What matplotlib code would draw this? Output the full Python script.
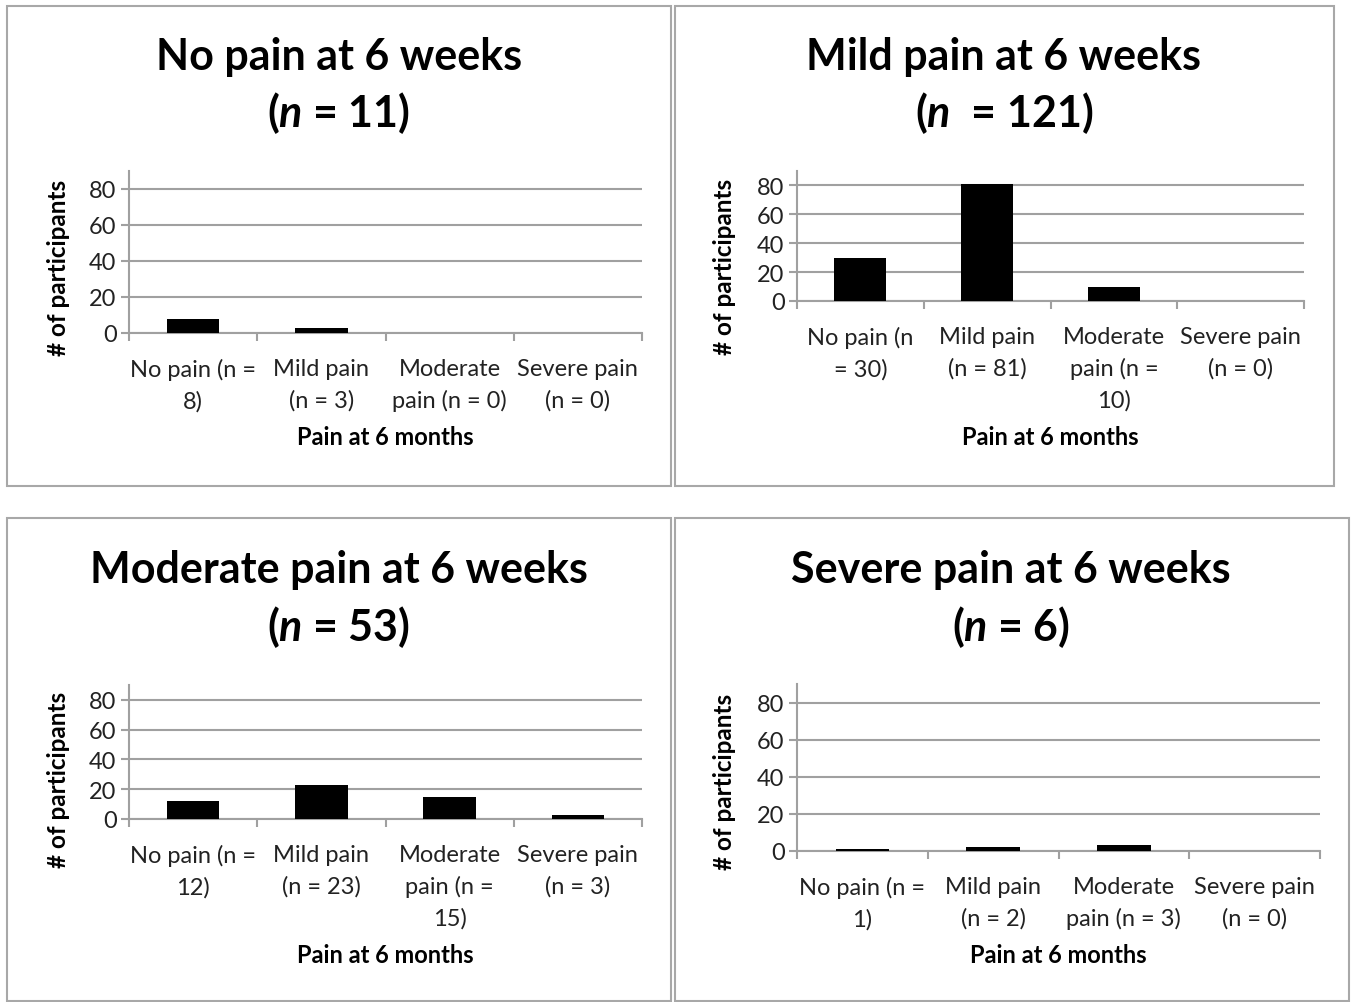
import numpy as np
import matplotlib
matplotlib.use('Agg')
import matplotlib.pyplot as plt
from matplotlib.patches import Rectangle

plt.rcParams['font.family'] = ['Lato', 'DejaVu Sans']
plt.rcParams['mathtext.fontset'] = 'custom'
plt.rcParams['mathtext.it'] = 'Lato:italic:bold'
plt.rcParams['mathtext.rm'] = 'Lato:bold'

# data
titles = ['No pain at 6 weeks', 'Mild pain at 6 weeks',
          'Moderate pain at 6 weeks', 'Severe pain at 6 weeks']
n_labels = [r'($\mathit{n}$ = 11)', r'($\mathit{n}$  = 121)',
            r'($\mathit{n}$ = 53)', r'($\mathit{n}$ = 6)']
counts_none = [8, 3, 0, 0]
counts_mild = [30, 81, 10, 0]
counts_moderate = [12, 23, 15, 3]
counts_severe = [1, 2, 3, 0]
cats_none = ['No pain (n =\n8)', 'Mild pain\n(n = 3)', 'Moderate\npain (n = 0)', 'Severe pain\n(n = 0)']
cats_mild = ['No pain (n\n= 30)', 'Mild pain\n(n = 81)', 'Moderate\npain (n =\n10)', 'Severe pain\n(n = 0)']
cats_moderate = ['No pain (n =\n12)', 'Mild pain\n(n = 23)', 'Moderate\npain (n =\n15)', 'Severe pain\n(n = 3)']
cats_severe = ['No pain (n =\n1)', 'Mild pain\n(n = 2)', 'Moderate\npain (n = 3)', 'Severe pain\n(n = 0)']

W, H = 1353, 1003
fig = plt.figure(figsize=(W / 100, H / 100), dpi=100)

def fx(px):
    return px / W

def fy(py):
    return 1 - py / H

# panel boxes (px): x0, y0, x1, y1
boxes = [(7, 7, 671, 487), (675, 7, 1334, 487), (7, 519, 671, 1002), (675, 519, 1349, 1002)]
# axes (px): left, top, right, bottom
axes_px = [(129, 172, 642, 334), (797, 172, 1304, 302), (129, 686, 642, 820), (797, 685, 1320, 852)]
title_pos = [(339, 57, 113), (1004, 57, 113), (339, 570, 627), (1011, 570, 627)]
ylab_pos = [(58, 268), (724, 267), (58, 780), (724, 782)]
xlab_y = [438, 438, 956, 956]

data = [counts_none, counts_mild, counts_moderate, counts_severe]
cats = [cats_none, cats_mild, cats_moderate, cats_severe]

gray = '#a0a0a0'
for i in range(4):
    x0, y0, x1, y1 = boxes[i]
    fig.patches.append(Rectangle((fx(x0), fy(y1)), fx(x1 - x0), (y1 - y0) / H,
                                 transform=fig.transFigure, fill=False,
                                 edgecolor='#a8a8a8', lw=1.5))
    l, t, r, b = axes_px[i]
    ax = fig.add_axes([fx(l), fy(b), fx(r - l), (b - t) / H])
    x = np.arange(4)
    ax.bar(x, data[i], width=0.41, color='black', zorder=3)
    ax.set_xlim(-0.5, 3.5)
    ax.set_ylim(0, 90)
    ax.set_yticks([0, 20, 40, 60, 80])
    ax.yaxis.grid(True, color=gray, lw=1.5)
    ax.set_axisbelow(True)
    for s in ['top', 'right']:
        ax.spines[s].set_visible(False)
    for s in ['left', 'bottom']:
        ax.spines[s].set_color(gray)
        ax.spines[s].set_linewidth(1.5)
    ax.set_xticks(x)
    ax.set_xticklabels(cats[i], fontsize=17, color='#222222', linespacing=1.55)
    ax.set_xticks(np.arange(-0.5, 4.0, 1.0), minor=True)
    ax.tick_params(axis='x', which='major', length=0, pad=18)
    ax.tick_params(axis='x', which='minor', length=6, width=1.5, color=gray)
    ax.tick_params(axis='y', length=6, width=1.5, color=gray, labelsize=17,
                   labelcolor='#222222', pad=3)
    tx, ty1, ty2 = title_pos[i]
    fig.text(fx(tx), fy(ty1), titles[i], ha='center', va='center',
             fontsize=31, fontweight='bold')
    fig.text(fx(tx), fy(ty2), n_labels[i], ha='center', va='center',
             fontsize=31, fontweight='bold')
    yx, yy = ylab_pos[i]
    fig.text(fx(yx), fy(yy), '# of participants', rotation=90, ha='center',
             va='center', fontsize=17.5, fontweight='bold')
    fig.text(fx((l + r) / 2), fy(xlab_y[i]), 'Pain at 6 months', ha='center',
             va='center', fontsize=17, fontweight='bold')

fig.savefig('out.png', dpi=100, facecolor='white')
